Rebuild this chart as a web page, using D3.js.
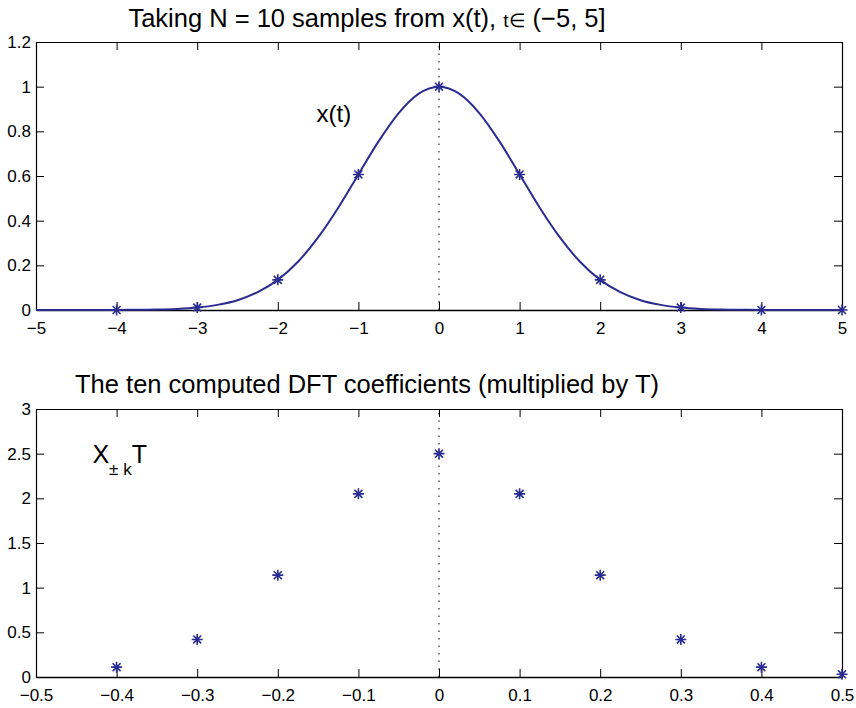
<!DOCTYPE html>
<html>
<head>
<meta charset="utf-8">
<script src="https://cdn.jsdelivr.net/npm/d3@7"></script>
<style>
body { margin: 0; background: #fff; }
text { font-family: "Liberation Sans", Arial, Helvetica, sans-serif; fill: #000; }
</style>
</head>
<body>
<div id="chart"></div>
<script>
// x(t), every 0.25 from -5 to 5
var curveT = d3.range(-5, 5.001, 0.25);
var curveX = [0.000, 0.000, 0.000, 0.000, 0.000, 0.001, 0.002, 0.005, 0.011, 0.023,
              0.044, 0.080, 0.135, 0.216, 0.325, 0.458, 0.607, 0.755, 0.882, 0.969,
              1.000,
              0.969, 0.882, 0.755, 0.607, 0.458, 0.325, 0.216, 0.135, 0.080, 0.044,
              0.023, 0.011, 0.005, 0.002, 0.001, 0.000, 0.000, 0.000, 0.000, 0.000];

// the ten samples
var sampleT = [-4, -3, -2, -1, 0, 1, 2, 3, 4, 5];
var sampleX = [0.000, 0.011, 0.135, 0.607, 1.000, 0.607, 0.135, 0.011, 0.000, 0.000];

// DFT coefficients times T
var freq = [-0.4, -0.3, -0.2, -0.1, 0, 0.1, 0.2, 0.3, 0.4, 0.5];
var coefT = [0.11, 0.42, 1.14, 2.05, 2.50, 2.05, 1.14, 0.42, 0.11, 0.03];

var topXTicks = [-5, -4, -3, -2, -1, 0, 1, 2, 3, 4, 5];
var topYTicks = [0, 0.2, 0.4, 0.6, 0.8, 1, 1.2];
var botXTicks = [-0.5, -0.4, -0.3, -0.2, -0.1, 0, 0.1, 0.2, 0.3, 0.4, 0.5];
var botYTicks = [0, 0.5, 1, 1.5, 2, 2.5, 3];

const width = 856;
const height = 708;
const blue = "#2b2c8f";
const fmt = d3.format("~g");

let svg = d3.select("#chart").append("svg")
	.attr("width", width)
	.attr("height", height);

function star(x, y, r) {
	let d = r * 0.72;
	return `M${x - r},${y}L${x + r},${y}M${x},${y - r}L${x},${y + r}` +
		`M${x - d},${y - d}L${x + d},${y + d}M${x - d},${y + d}L${x + d},${y - d}`;
}

// draws a boxed axes with inward ticks on all four sides, returns the scales
function drawAxes(box, xDom, yDom, xTicks, yTicks) {
	let x = d3.scaleLinear().domain(xDom).range([box.left, box.right]);
	let y = d3.scaleLinear().domain(yDom).range([box.bottom, box.top]);

	let g = svg.append("g");

	g.append("g")
		.attr("class", "xbot")
		.attr("transform", `translate(0, ${box.bottom})`)
		.call(d3.axisBottom(x).tickValues(xTicks).tickFormat(fmt).tickSizeInner(-8).tickSizeOuter(0).tickPadding(12));
	g.append("g")
		.attr("transform", `translate(0, ${box.top})`)
		.call(d3.axisTop(x).tickValues(xTicks).tickFormat("").tickSizeInner(-8).tickSizeOuter(0));
	g.append("g")
		.attr("transform", `translate(${box.left}, 0)`)
		.call(d3.axisLeft(y).tickValues(yTicks).tickFormat(fmt).tickSizeInner(-8).tickSizeOuter(0).tickPadding(5));
	g.append("g")
		.attr("transform", `translate(${box.right}, 0)`)
		.call(d3.axisRight(y).tickValues(yTicks).tickFormat("").tickSizeInner(-8).tickSizeOuter(0));

	g.selectAll(".domain").attr("stroke", "#000").attr("stroke-width", 1.2);
	g.select(".xbot .domain").attr("stroke-width", 1.6);
	g.selectAll(".tick line").attr("stroke", "#000").attr("stroke-width", 1);
	g.selectAll(".tick text")
		.attr("fill", "#000")
		.style("font-family", '"Liberation Sans", Arial, sans-serif')
		.style("font-size", "17px");

	// dotted zero line
	svg.append("line")
		.attr("x1", x(0)).attr("x2", x(0))
		.attr("y1", y(yDom[0])).attr("y2", y(yDom[1]))
		.attr("stroke", "#000")
		.attr("stroke-width", 1)
		.attr("stroke-dasharray", "1.5,6");

	return {x: x, y: y};
}

// top plot
let topAx = drawAxes({left: 36, right: 842, top: 42, bottom: 310}, [-5, 5], [0, 1.2], topXTicks, topYTicks);

let line = d3.line()
	.x((d, i) => topAx.x(curveT[i]))
	.y(d => topAx.y(d))
	.curve(d3.curveMonotoneX);

svg.append("path")
	.datum(curveX)
	.attr("d", line)
	.attr("fill", "none")
	.attr("stroke", blue)
	.attr("stroke-width", 2);

svg.append("g").selectAll("path")
	.data(sampleX)
	.join("path")
	.attr("d", (d, i) => star(topAx.x(sampleT[i]), topAx.y(d), 5.5))
	.attr("stroke", blue)
	.attr("stroke-width", 1.6)
	.attr("fill", "none");

svg.append("text")
	.attr("x", topAx.x(-1.52))
	.attr("y", topAx.y(0.84))
	.style("font-size", "24px")
	.text("x(t)");

let title1 = svg.append("text")
	.attr("x", 367)
	.attr("y", 27)
	.attr("text-anchor", "middle")
	.style("font-size", "25.5px");
title1.append("tspan").text("Taking N = 10 samples from x(t), ");
title1.append("tspan").style("font-size", "19px").text("t\u2208");
title1.append("tspan").text(" (\u22125, 5]");

// bottom plot
let botAx = drawAxes({left: 36, right: 842, top: 409, bottom: 677}, [-0.5, 0.5], [0, 3], botXTicks, botYTicks);

svg.append("g").selectAll("path")
	.data(coefT)
	.join("path")
	.attr("d", (d, i) => star(botAx.x(freq[i]), botAx.y(d), 5.5))
	.attr("stroke", blue)
	.attr("stroke-width", 1.6)
	.attr("fill", "none");

let lbl = svg.append("text")
	.attr("x", botAx.x(-0.43))
	.attr("y", botAx.y(2.4))
	.style("font-size", "25px");
lbl.append("tspan").text("X");
lbl.append("tspan").attr("dy", 12).style("font-size", "17px").text("\u00b1 k");
lbl.append("tspan").attr("dy", -12).text("T");

svg.append("text")
	.attr("x", 367)
	.attr("y", 393)
	.attr("text-anchor", "middle")
	.style("font-size", "25.5px")
	.text("The ten computed DFT coefficients (multiplied by T)");
</script>
</body>
</html>
